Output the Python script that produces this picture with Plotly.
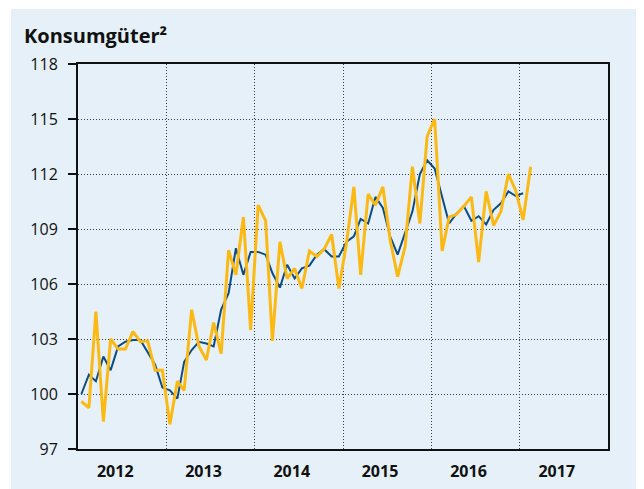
import plotly.graph_objects as go
import pandas as pd

# ---------------- data ----------------
months = pd.date_range("2012-01-01", periods=62, freq="MS") + pd.Timedelta(days=14)

actual = [99.6, 99.25, 104.5, 98.5, 103.0, 102.45, 102.45, 103.4, 102.85, 102.9, 101.3, 101.3,
          98.35, 100.7, 100.2, 104.6, 102.6, 101.85, 103.9, 102.2, 107.85, 106.5, 109.65, 103.5,
          110.3, 109.45, 102.9, 108.3, 106.3, 106.85, 105.75, 107.8, 107.5, 107.9, 108.7, 105.75,
          108.2, 111.3, 106.5, 110.9, 110.3, 111.3, 108.4, 106.4, 108.05, 112.4, 109.3, 114.05,
          115.0, 107.8, 109.65, 109.8, 110.25, 110.75, 107.2, 111.05, 109.2, 109.95, 112.0, 111.1,
          109.5, 112.4]

trend = [100.0, 101.05, 100.7, 102.05, 101.3, 102.6, 102.85, 102.95, 102.95, 102.3, 101.6, 100.35,
         100.2, 99.75, 101.75, 102.4, 102.85, 102.75, 102.6, 104.6, 105.5, 107.95, 106.5, 107.75,
         107.75, 107.6, 106.6, 105.8, 107.05, 106.3, 106.85, 107.0, 107.6, 107.9, 107.5, 107.5,
         108.3, 108.6, 109.55, 109.3, 110.75, 110.15, 108.6, 107.6, 108.75, 109.95, 112.0, 112.75,
         112.3, 110.75, 109.3, 109.85, 110.25, 109.45, 109.7, 109.25, 110.05, 110.4, 111.05, 110.8,
         110.95]

year_labels = ["2012", "2013", "2014", "2015", "2016", "2017"]
year_label_pos = ["2012-06-03", "2013-06-03", "2014-06-03", "2015-06-03", "2016-06-03", "2017-06-03"]
year_grid = ["2013-01-01", "2014-01-01", "2015-01-01", "2016-01-01", "2017-01-01"]
y_ticks = [97, 100, 103, 106, 109, 112, 115, 118]

# ---------------- style ----------------
BG = "#E5F0F8"
YELLOW = "#FDB913"
BLUE = "#0B4C85"
GRID = "#3A3A3A"
FONT = "Open Sans"

# the page body has an 8px default margin, so the figure is sized to fill the rest
W, H = 636, 481
L, T, R, B = 70, 56, 36, 40
PW, PH = W - L - R, H - T - B

fig = go.Figure()
fig.add_trace(go.Scatter(x=months[:len(trend)], y=trend, mode="lines",
                         line=dict(color=BLUE, width=2), showlegend=False, hoverinfo="skip"))
fig.add_trace(go.Scatter(x=months, y=actual, mode="lines",
                         line=dict(color=YELLOW, width=3), showlegend=False, hoverinfo="skip"))

fig.update_layout(
    width=W, height=H,
    margin=dict(l=L, r=R, t=T, b=B, autoexpand=False),
    paper_bgcolor="white",
    plot_bgcolor=BG,
    font=dict(family=FONT, size=15, color="#111111"),
    shapes=[dict(type="rect", xref="paper", yref="paper",
                 x0=(3 - L) / PW, x1=1.3, y0=-0.3, y1=(T + PH - 1) / PH,
                 fillcolor=BG, line=dict(width=0), layer="below")],
    annotations=[dict(text="<b>Konsumgüter²</b>", xref="paper", yref="paper",
                      x=(13.5 - L) / PW, y=(T + PH - 27) / PH, xanchor="left", yanchor="middle",
                      showarrow=False, font=dict(family=FONT, size=20, color="#111111"))],
)

fig.update_xaxes(
    type="date",
    range=["2012-01-01", "2018-01-01"],
    automargin=False,
    tickmode="array", tickvals=year_label_pos, ticktext=[f"<b>{t}</b>" for t in year_labels],
    ticks="", showgrid=False,
    tickfont=dict(family=FONT, size=16, color="#111111"),
    ticklabelstandoff=7,
    showline=True, linecolor="#111111", linewidth=2, mirror=True,
    zeroline=False,
    minor=dict(tickmode="array", tickvals=year_grid, showgrid=True,
               gridcolor=GRID, griddash="1px,2px", gridwidth=1, ticks=""),
)

fig.update_yaxes(
    range=[97, 118],
    automargin=False,
    tickmode="array", tickvals=y_ticks,
    ticks="outside", ticklen=8, tickwidth=2, tickcolor="#111111",
    tickfont=dict(family=FONT, size=16, color="#111111"),
    ticklabelstandoff=7,
    showgrid=True, gridcolor=GRID, griddash="1px,2px", gridwidth=1,
    showline=True, linecolor="#111111", linewidth=2, mirror=True,
    zeroline=False,
)

fig.write_html("out.html")
